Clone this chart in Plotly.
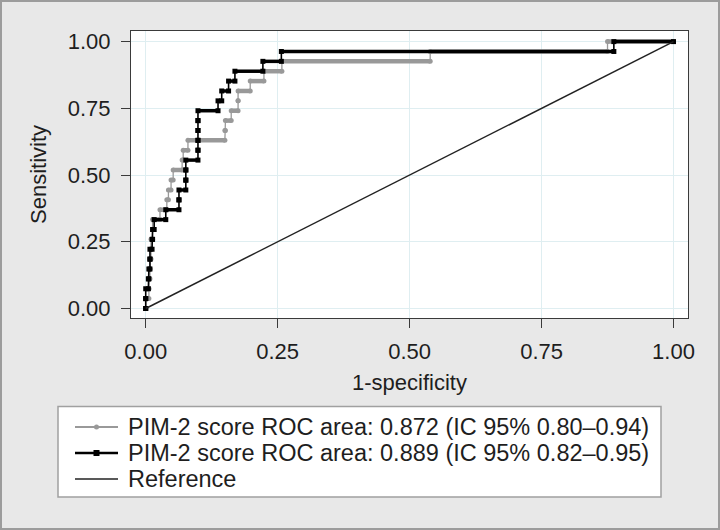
import plotly.graph_objects as go

# ---------------- data ----------------
sensitivity = [0.000, 0.037, 0.074, 0.111, 0.148, 0.185, 0.222, 0.259, 0.296, 0.333,
               0.370, 0.407, 0.444, 0.481, 0.519, 0.556, 0.593, 0.630, 0.667, 0.704,
               0.741, 0.778, 0.815, 0.852, 0.889, 0.926, 0.963, 1.000]
# 1-specificity at which each sensitivity level ends (right end of the horizontal run)
gray_fpr_end = [0.000, 0.006, 0.006, 0.008, 0.008, 0.010, 0.010, 0.013, 0.013, 0.027,
                0.040, 0.043, 0.048, 0.052, 0.069, 0.071, 0.080, 0.150, 0.151, 0.162,
                0.175, 0.175, 0.198, 0.224, 0.258, 0.539, 0.875, 1.000]
black_fpr_end = [0.000, 0.000, 0.005, 0.006, 0.008, 0.008, 0.012, 0.013, 0.016, 0.038,
                 0.063, 0.063, 0.076, 0.076, 0.076, 0.099, 0.099, 0.099, 0.099, 0.099,
                 0.137, 0.144, 0.157, 0.169, 0.222, 0.257, 0.887, 1.000]
ref_x = [0, 1]
ref_y = [0, 1]

legend_labels = ["PIM-2 score ROC area: 0.872 (IC 95% 0.80\u20130.94)",
                 "PIM-2 score ROC area: 0.889 (IC 95% 0.82\u20130.95)",
                 "Reference"]
tick_vals = [0, 0.25, 0.5, 0.75, 1]
tick_text = ["0.00", "0.25", "0.50", "0.75", "1.00"]
x_title = "1-specificity"
y_title = "Sensitivity"

FONT = "Liberation Sans, Arial, Helvetica, sans-serif"
GRAY = "#999999"
BLACK = "#000000"


def staircase(ends, sens):
    xs, ys, hx, hy = [], [], [], []
    prev = 0.0
    for e, s in zip(ends, sens):
        xs += [prev, e]
        ys += [s, s]
        if e > prev:
            hx += [prev, e, None]
            hy += [s, s, None]
        prev = e
    return xs, ys, hx, hy


fig = go.Figure()

for ends, col, sym, msize, lw, hw in [
    (gray_fpr_end, GRAY, "circle", 5, 1.3, 4.5),
    (black_fpr_end, BLACK, "square", 5, 1.6, 3.5),
]:
    xs, ys, hx, hy = staircase(ends, sensitivity)
    fig.add_trace(go.Scatter(x=hx, y=hy, mode="lines", line=dict(color=col, width=hw),
                             showlegend=False, hoverinfo="skip"))
    fig.add_trace(go.Scatter(x=xs, y=ys, mode="lines+markers",
                             line=dict(color=col, width=lw),
                             marker=dict(symbol=sym, size=msize, color=col, line=dict(width=0)),
                             showlegend=False))

fig.add_trace(go.Scatter(x=ref_x, y=ref_y, mode="lines",
                         line=dict(color="#222222", width=1.5), showlegend=False))

# ---------------- layout ----------------
W, H = 720, 530
L, R, T, B = 131, 32, 31, 212
PW, PH = W - L - R, H - T - B


def px_x(p):
    return (p - L) / PW


def px_y(p):
    return (H - B - p) / PH


shapes = []
# outer frame
shapes.append(dict(type="rect", xref="paper", yref="paper",
                   x0=px_x(1), x1=px_x(719), y0=px_y(529), y1=px_y(1),
                   line=dict(color="#9c9c9c", width=2), fillcolor="rgba(0,0,0,0)", layer="below"))
# legend box
shapes.append(dict(type="rect", xref="paper", yref="paper",
                   x0=px_x(58), x1=px_x(661), y0=px_y(497), y1=px_y(406.5),
                   line=dict(color="#a0a0a0", width=1.5), fillcolor="white", layer="below"))

rows = [427, 453, 479]
styles = [(GRAY, 2, "circle"), (BLACK, 2.5, "square"), ("#222222", 1.5, None)]
annotations = []
for ry, (col, w, mk), lab in zip(rows, styles, legend_labels):
    shapes.append(dict(type="line", xref="paper", yref="paper",
                       x0=px_x(75), x1=px_x(118), y0=px_y(ry), y1=px_y(ry),
                       line=dict(color=col, width=w)))
    if mk == "circle":
        shapes.append(dict(type="circle", xref="paper", yref="paper",
                           x0=px_x(94), x1=px_x(99), y0=px_y(ry + 2.5), y1=px_y(ry - 2.5),
                           line=dict(color=col, width=0), fillcolor=col))
    elif mk == "square":
        shapes.append(dict(type="rect", xref="paper", yref="paper",
                           x0=px_x(93.5), x1=px_x(99.5), y0=px_y(ry + 3), y1=px_y(ry - 3),
                           line=dict(color=col, width=0), fillcolor=col))
    annotations.append(dict(xref="paper", yref="paper", x=px_x(126), y=px_y(ry),
                            xanchor="left", yanchor="middle", showarrow=False,
                            text=lab, font=dict(family=FONT, size=23.5, color="#1e1e1e")))

axis_common = dict(
    tickmode="array", tickvals=tick_vals, ticktext=tick_text,
    showgrid=True, gridcolor="#dfeef1", gridwidth=1, zeroline=False,
    showline=True, mirror=True, linecolor="#3a3a3a", linewidth=1.2,
    ticks="outside", ticklen=9, tickcolor="#3a3a3a", tickwidth=1.2,
    tickfont=dict(family=FONT, size=22, color="#1e1e1e"),
)

fig.update_layout(
    width=W, height=H,
    margin=dict(l=L, r=R, t=T, b=B, pad=0),
    paper_bgcolor="#e8e8e8", plot_bgcolor="white",
    showlegend=False,
    shapes=shapes, annotations=annotations,
    xaxis=dict(range=[-0.0279, 1.0275],
               title=dict(text=x_title, font=dict(family=FONT, size=22, color="#1e1e1e"), standoff=12),
               ticklabelstandoff=4, **axis_common),
    yaxis=dict(range=[-0.0356, 1.0397],
               title=dict(text=y_title, font=dict(family=FONT, size=22, color="#1e1e1e"), standoff=14),
               ticklabelstandoff=6, **axis_common),
)

fig.write_html("out.html", config={"displayModeBar": False},
               post_script="document.body.style.margin='0';document.body.style.overflow='hidden';")
